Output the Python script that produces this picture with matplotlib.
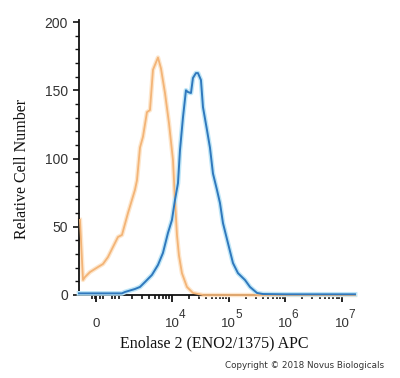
import matplotlib
matplotlib.use("Agg")
import matplotlib.pyplot as plt
import matplotlib.transforms as mtransforms
import numpy as np

# ---- data ----
orange_x = [-880, -718, -612, -346, 80, 346, 612, 1116, 1313, 1675, 2225, 2415,
            2729, 3083, 3625, 4095, 4627, 5665, 6401, 7533, 8855, 10419, 11300,
            12250, 13280, 15000, 18370, 23440, 35200, 1.0e5, 1.0e6, 1.69e7]
orange_y = [55, 11, 13.2, 16.8, 20.5, 22.7, 27.8, 42.5, 44, 60, 77, 84,
            108, 116, 134, 135.5, 165, 174, 166, 148, 126, 99, 69.6,
            44, 29, 16, 5.9, 1.5, 0, 0, 0, 0]

blue_x = [-930, 1313, 1483, 2225, 2729, 3342, 4434, 5665, 6934, 8494, 10000,
          11300, 12770, 13840, 15630, 17650, 19150, 21640, 23440, 26480, 28750,
          32460, 35220, 41410, 46790, 52860, 62190, 70270, 79350, 97190,
          119100, 145900, 194000, 237700, 315700, 402500, 1.0e6, 1.69e7]
blue_y = [1.2, 1.2, 2.2, 4.4, 5.9, 9.5, 14.7, 22, 30.8, 45.4, 55,
          69.6, 82, 106, 130, 150, 148.7, 148, 159, 162.6, 162.6,
          157.5, 137.7, 121, 108, 89, 77, 67.4, 52.7, 38,
          23.4, 16, 11, 5.9, 1.5, 0.7, 0.5, 0.5]

x_major = [0, 1e4, 1e5, 1e6, 1e7]
x_major_exp = ["4", "5", "6", "7"]
y_major = [0, 50, 100, 150, 200]
y_labels = ["0", "50", "100", "150", "200"]

# ---- figure ----
W, H = 400, 378
fig = plt.figure(figsize=(W / 100, H / 100), dpi=100)
ax = fig.add_axes([79 / W, 1 - 295 / H, (355 - 79) / W, (295 - 20) / H])

ax.set_xscale("symlog", linthresh=1000, linscale=0.298, base=10)
ax.set_xlim(-931, 1.69e7)
ax.set_ylim(0, 201.5)

# halos then lines
ax.plot(orange_x, orange_y, color="#fde6cc", lw=3.2, clip_on=False, zorder=2)
ax.plot(blue_x, blue_y, color="#bfe6f7", lw=3.4, clip_on=False, zorder=3)
ax.plot(orange_x, orange_y, color="#f3b477", lw=1.3, clip_on=False, zorder=4)
ax.plot(blue_x, blue_y, color="#2f78bd", lw=1.4, clip_on=False, zorder=5)

for s in ["top", "right"]:
    ax.spines[s].set_visible(False)
for s in ["left", "bottom"]:
    ax.spines[s].set_linewidth(1.3)
    ax.spines[s].set_color("#111111")

# y ticks
ax.set_yticks(y_major)
ax.set_yticks(np.arange(0, 201, 10), minor=True)
ax.set_yticklabels(y_labels, fontfamily="Liberation Sans", fontsize=10, color="#333333")
ax.tick_params(axis="y", which="major", direction="out", length=4, width=1.2, pad=4, colors="#111111", labelcolor="#333333")
ax.tick_params(axis="y", which="minor", direction="out", length=3, width=1.0, colors="#111111")

# x ticks
minor_x = [-250, -80, 190, 350, 800, 1000, 1160]
for dec in [1e3, 1e4, 1e5, 1e6]:
    minor_x += [k * dec for k in range(2, 10)]
ax.set_xticks(x_major)
ax.set_xticks(minor_x, minor=True)
ax.set_xticklabels([""] * len(x_major))
ax.tick_params(axis="x", which="major", direction="out", length=5, width=1.3, colors="#111111")
ax.tick_params(axis="x", which="minor", direction="out", length=3, width=1.2, colors="#111111")

# x tick labels drawn as text (base + superscript)
trans = mtransforms.blended_transform_factory(ax.transData, fig.transFigure)
ax.text(x_major[0], 1 - 324 / H, "0", transform=trans, ha="center", va="center",
        fontfamily="Liberation Sans", fontsize=9.5, color="#333333")
off = mtransforms.offset_copy(trans, fig=fig, x=6.5 * 0.72, y=0, units="points")
for xv, e in zip(x_major[1:], x_major_exp):
    ax.text(xv, 1 - 324 / H, "10", transform=trans, ha="center", va="center",
            fontfamily="Liberation Sans", fontsize=9.5, color="#333333")
    ax.text(xv, 1 - 315 / H, e, transform=off, ha="left", va="center",
            fontfamily="Liberation Sans", fontsize=8.5, color="#333333")

# axis labels
fig.text(22 / W, 1 - 169 / H, "Relative Cell Number", rotation=90, ha="center", va="center",
         fontfamily="Liberation Serif", fontsize=11.5, color="#111111")
fig.text(214 / W, 1 - 343 / H, "Enolase 2 (ENO2/1375) APC", ha="center", va="center",
         fontfamily="Liberation Serif", fontsize=11.5, color="#111111")
fig.text(305 / W, 1 - 366 / H, "Copyright \u00a9 2018 Novus Biologicals", ha="center", va="center",
         fontfamily="DejaVu Sans", fontsize=6.3, color="#333333")

fig.savefig("out.png", dpi=100)
